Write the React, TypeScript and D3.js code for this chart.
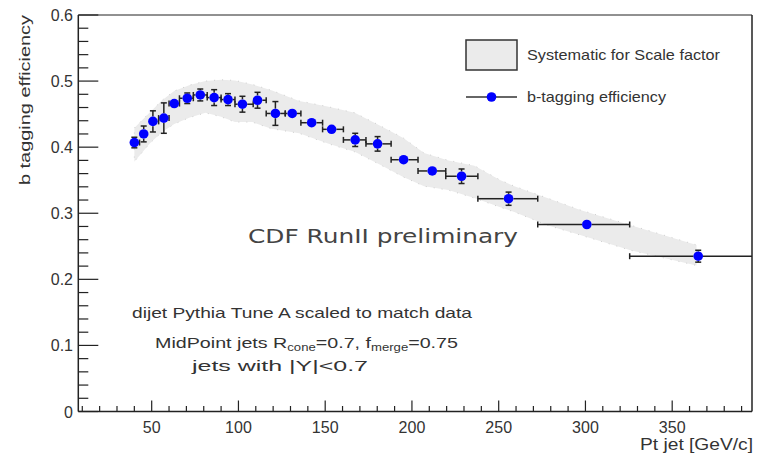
import React from "react";
import * as d3 from "d3";

// ---- data ----
const ptCenter = [40, 45.4, 50.7, 57, 63, 70.5, 78, 86, 94, 102.3, 111, 121.3, 131, 142.2, 153.7, 167.3, 180.2, 195.2, 211.7, 228.6, 255.7, 300.8, 365];
const binEdges = [38, 43, 48, 54, 60, 66, 74, 82, 90, 98, 108.5, 116, 127, 136, 148.5, 160.5, 173.5, 188, 203.5, 219.5, 238, 272.5, 325.5, 400];
const efficiency = [0.407, 0.420, 0.439, 0.444, 0.466, 0.474, 0.479, 0.475, 0.472, 0.465, 0.471, 0.451, 0.451, 0.437, 0.427, 0.411, 0.405, 0.381, 0.364, 0.356, 0.322, 0.283, 0.235];
const effErr = [0.008, 0.012, 0.016, 0.023, 0.005, 0.008, 0.009, 0.012, 0.009, 0.012, 0.012, 0.018, 0.004, 0.006, 0.007, 0.010, 0.011, 0.004, 0.006, 0.011, 0.010, 0.004, 0.009];

const bandPt = [40, 49, 56, 63, 72, 81, 90, 98, 108, 119, 135, 152, 167, 182, 195, 207, 221, 236, 251, 259, 278, 297, 326, 364];
const bandHigh = [0.429, 0.453, 0.471, 0.485, 0.494, 0.500, 0.502, 0.501, 0.495, 0.486, 0.470, 0.461, 0.452, 0.432, 0.414, 0.391, 0.380, 0.372, 0.350, 0.341, 0.323, 0.305, 0.282, 0.252];
const bandLow = [0.378, 0.406, 0.423, 0.435, 0.445, 0.452, 0.446, 0.438, 0.438, 0.428, 0.421, 0.405, 0.393, 0.373, 0.355, 0.341, 0.335, 0.323, 0.309, 0.302, 0.282, 0.267, 0.244, 0.221];

const xTickValues = [50, 100, 150, 200, 250, 300, 350];
const yTickValues = [0, 0.1, 0.2, 0.3, 0.4, 0.5, 0.6];
const xDomain = [7.7, 396];
const yDomain = [0, 0.6];

const FONT = "'Liberation Sans', Arial, Helvetica, sans-serif";
const TXT = "#333";

export default function App() {
  const W = 757, H = 456;
  const x = d3.scaleLinear().domain(xDomain).range([78.3, 752]);
  const y = d3.scaleLinear().domain(yDomain).range([411.5, 15]);
  const x0 = x.range()[0], x1 = x.range()[1];
  const y0 = y.range()[0], y1 = y.range()[1];

  const bandData = bandPt.map((p, i) => ({ p, lo: bandLow[i], hi: bandHigh[i] }));
  const area = d3.area<any>().x((d) => x(d.p)).y0((d) => y(d.lo)).y1((d) => y(d.hi));

  const xMinor = d3.range(10, 400, 10).filter((v) => v >= xDomain[0] && v <= xDomain[1]);
  const yMinor = d3.range(0, 0.6001, 0.02);

  const r = 4.8;
  const cap = 3;

  return (
    <svg width={W} height={H} style={{ position: "absolute", left: 0, top: 0, display: "block", background: "#fff" }}>
      {/* systematic band */}
      <path d={area(bandData) || ""} fill="#ebebeb" stroke="#cfcfcf" strokeWidth={1} strokeDasharray="1 7" />

      {/* error bars + markers */}
      <g stroke="#222" strokeWidth={1.5}>
        {ptCenter.map((p, i) => {
          const cx = x(p);
          const cy = y(efficiency[i]);
          const xl = x(Math.max(binEdges[i], xDomain[0]));
          const xr = x(Math.min(binEdges[i + 1], xDomain[1]));
          const yt = y(efficiency[i] + effErr[i]);
          const yb = y(efficiency[i] - effErr[i]);
          const els: any[] = [];
          if (cx - xl > r) {
            els.push(<line key="hl" x1={xl} x2={cx - r} y1={cy} y2={cy} />);
            els.push(<line key="hlc" x1={xl} x2={xl} y1={cy - cap} y2={cy + cap} />);
          }
          if (xr - cx > r) {
            els.push(<line key="hr" x1={cx + r} x2={xr} y1={cy} y2={cy} />);
            if (binEdges[i + 1] <= xDomain[1]) els.push(<line key="hrc" x1={xr} x2={xr} y1={cy - cap} y2={cy + cap} />);
          }
          if (cy - yt > r) {
            els.push(<line key="vt" x1={cx} x2={cx} y1={yt} y2={cy - r} />);
            els.push(<line key="vtc" x1={cx - cap} x2={cx + cap} y1={yt} y2={yt} />);
          }
          if (yb - cy > r) {
            els.push(<line key="vb" x1={cx} x2={cx} y1={cy + r} y2={yb} />);
            els.push(<line key="vbc" x1={cx - cap} x2={cx + cap} y1={yb} y2={yb} />);
          }
          return <g key={i}>{els}</g>;
        })}
      </g>
      <g fill="#0000ff">
        {ptCenter.map((p, i) => (
          <circle key={i} cx={x(p)} cy={y(efficiency[i])} r={r} />
        ))}
      </g>

      {/* frame */}
      <g stroke="#222" strokeWidth={1.5} fill="none">
        <line x1={x0} x2={x1} y1={y0} y2={y0} />
        <line x1={x0} x2={x0} y1={y0} y2={y1} />
        <line x1={x0} x2={x1} y1={y1} y2={y1} strokeWidth={1} />
        <line x1={x1} x2={x1} y1={y0} y2={y1} />
      </g>

      {/* x ticks */}
      <g stroke="#222" strokeWidth={1.2}>
        {xMinor.map((v) => {
          const major = v % 50 === 0;
          return <line key={v} x1={x(v)} x2={x(v)} y1={y0} y2={y0 - (major ? 11 : 5.5)} />;
        })}
      </g>
      {/* y ticks */}
      <g stroke="#222" strokeWidth={1.2}>
        {yMinor.map((v, i) => {
          const major = i % 5 === 0;
          return <line key={i} x1={x0} x2={x0 + (major ? 20 : 10)} y1={y(v)} y2={y(v)} />;
        })}
      </g>

      {/* tick labels */}
      <g fontFamily={FONT} fontSize={16} fill={TXT}>
        {xTickValues.map((v) => (
          <text key={v} x={x(v)} y={433} textAnchor="middle">{v}</text>
        ))}
        {yTickValues.map((v) => (
          <text key={v} x={73} y={y(v) + 6} textAnchor="end">{v === 0 ? "0" : d3.format(".1f")(v)}</text>
        ))}
      </g>

      {/* axis titles */}
      <text x={753} y={450} textAnchor="end" fontFamily={FONT} fontSize={16} fill={TXT} textLength={113} lengthAdjust="spacingAndGlyphs">Pt jet [GeV/c]</text>
      <text transform="translate(30,15) rotate(-90)" textAnchor="end" fontFamily={FONT} fontSize={15} fill={TXT} textLength={170} lengthAdjust="spacingAndGlyphs">b tagging efficiency</text>

      {/* legend */}
      <rect x={466} y={40} width={51} height={30} fill="#ebebeb" stroke="#333" strokeWidth={1.5} />
      <text x={527} y={60} fontFamily={FONT} fontSize={15} fill={TXT} textLength={193} lengthAdjust="spacingAndGlyphs">Systematic for Scale factor</text>
      <line x1={466} x2={517} y1={97} y2={97} stroke="#333" strokeWidth={1.5} />
      <circle cx={491.5} cy={97} r={r} fill="#0000ff" />
      <text x={527} y={102} fontFamily={FONT} fontSize={15} fill={TXT} textLength={139} lengthAdjust="spacingAndGlyphs">b-tagging efficiency</text>

      {/* annotations */}
      <text x={248} y={243} fontFamily="'DejaVu Sans', Verdana, sans-serif" fontSize={20} fill="#444" textLength={270} lengthAdjust="spacingAndGlyphs">CDF RunII preliminary</text>
      <text x={132} y={318} fontFamily={FONT} fontSize={15} fill={TXT} textLength={340} lengthAdjust="spacingAndGlyphs">dijet Pythia Tune A scaled to match data</text>
      <text x={155} y={348} fontFamily={FONT} fontSize={15} fill={TXT} textLength={303} lengthAdjust="spacingAndGlyphs">
        MidPoint jets R<tspan fontSize={10} dy={3}>cone</tspan><tspan dy={-3}>=0.7, f</tspan><tspan fontSize={10} dy={3}>merge</tspan><tspan dy={-3}>=0.75</tspan>
      </text>
      <text x={192} y={371} fontFamily={FONT} fontSize={15} fill={TXT} textLength={176} lengthAdjust="spacingAndGlyphs">jets with |Y|&lt;0.7</text>
    </svg>
  );
}
